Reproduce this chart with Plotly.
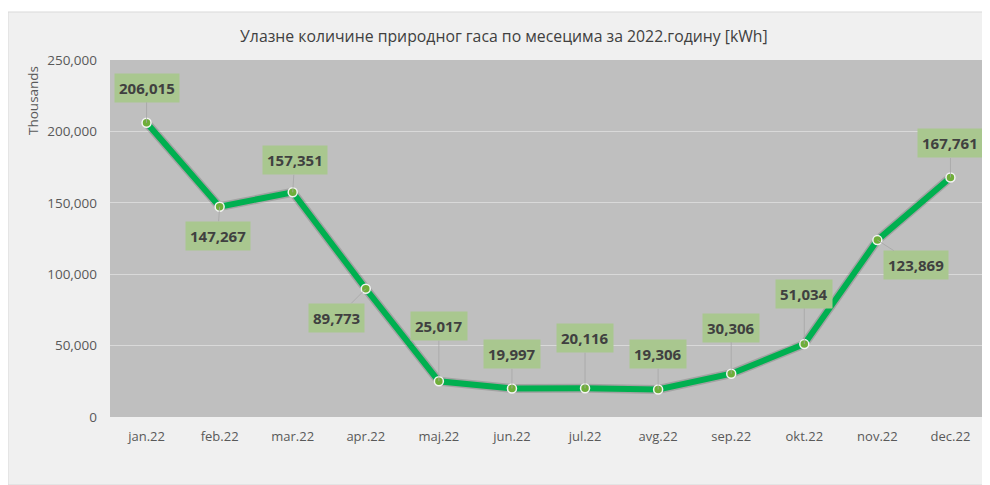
import plotly.graph_objects as go

months = ["jan.22", "feb.22", "mar.22", "apr.22", "maj.22", "jun.22",
          "jul.22", "avg.22", "sep.22", "okt.22", "nov.22", "dec.22"]
# ulazne kolicine u hiljadama kWh
gas = [206015, 147267, 157351, 89773, 25017, 19997,
       20116, 19306, 30306, 51034, 123869, 167761]
y_ticks = [0, 50000, 100000, 150000, 200000, 250000]

# pomeraji natpisa (px) - samo stil
label_dx = [0, -2, 2, -29, 0, 0, 0, 0, 0, 0, 39, 0]
label_dy = [-35, 29, -32, 29, -55, -34, -50, -35, -46, -50, 25, -34]

fig = go.Figure()

# senka linije
fig.add_trace(go.Scatter(x=months, y=gas, mode="lines",
                         line=dict(color="rgba(0,0,0,0.15)", width=9),
                         hoverinfo="skip", showlegend=False))
fig.add_trace(go.Scatter(x=months, y=gas, mode="lines+markers",
                         line=dict(color="#00b050", width=6),
                         marker=dict(size=9, color="#6fae3a",
                                     line=dict(color="#f4f4f4", width=1.5)),
                         showlegend=False))

for m, v, dx, dy in zip(months, gas, label_dx, label_dy):
    fig.add_annotation(x=m, y=v, text="<b>" + f"{v:,}" + "</b>",
                       showarrow=True, arrowhead=0, arrowwidth=0.8,
                       arrowcolor="#a6a6a6", ax=dx, ay=dy,
                       bgcolor="#a9c78f", borderpad=4,
                       font=dict(family="Open Sans", size=15, color="#404040"))

# jedinica prikaza na vrhu ose
fig.add_annotation(text="Thousands", xref="paper", yref="paper",
                   x=-0.0878, y=0.888, xanchor="center", yanchor="middle",
                   textangle=-90, showarrow=False,
                   font=dict(size=13.5, color="#595959"))

# okvir grafikona i pozadina plot oblasti
fig.add_shape(type="rect", xref="paper", yref="paper",
              x0=-102 / 877, x1=1.003, y0=-68 / 357, y1=1 + 48 / 357,
              fillcolor="#f0f0f0", line=dict(color="#d9d9d9", width=1),
              layer="below")
fig.add_shape(type="rect", xref="paper", yref="paper",
              x0=0, x1=1, y0=0, y1=1,
              fillcolor="#bfbfbf", line=dict(width=0), layer="below")

fig.update_layout(
    width=982, height=477,
    margin=dict(l=102, r=3, t=52, b=68),
    paper_bgcolor="white",
    plot_bgcolor="rgba(0,0,0,0)",
    font=dict(family="Open Sans", color="#595959", size=12),
    title=dict(text="Улазне количине природног гаса по месецима за 2022.годину [kWh]",
               x=0.505, xanchor="center", y=0.941, yanchor="middle",
               font=dict(size=15.8, color="#404040"), automargin=False),
    xaxis=dict(range=[-0.5, 11.5], showgrid=False, showline=False, ticks="",
               automargin=False, ticklabelstandoff=10,
               tickfont=dict(size=13, color="#595959")),
    yaxis=dict(range=[0, 250000], tickvals=y_ticks, tickformat=",",
               gridcolor="#d9d9d9", gridwidth=1, zeroline=False,
               automargin=False, ticklabelstandoff=12,
               tickfont=dict(size=13.5, color="#595959")),
)

fig.write_html("out.html")
